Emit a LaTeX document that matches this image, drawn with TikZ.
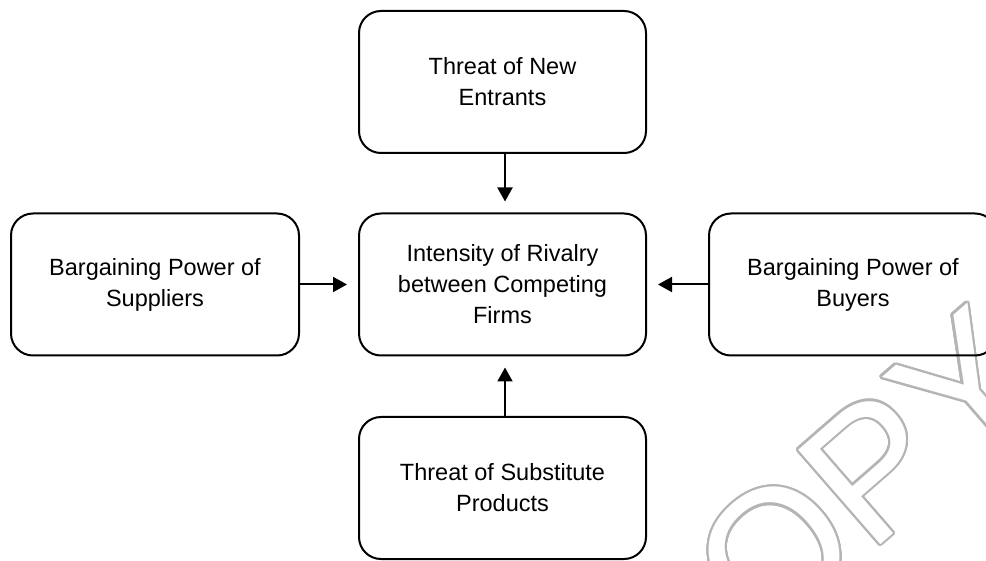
\documentclass[tikz,border=0pt]{standalone}
\usepackage{fontspec}
\setmainfont{Liberation Sans}
\usetikzlibrary{arrows.meta}
\definecolor{wmgray}{RGB}{180,180,180}
\begin{document}
\begin{tikzpicture}[x=1pt,y=-1pt,
  box/.style={draw, line width=2pt, rounded corners=22pt, minimum width=287pt, minimum height=142pt,
    align=center, inner sep=0pt, font=\fontsize{23.5}{31}\selectfont},
  arr/.style={line width=2pt, -{Triangle[length=14pt,width=15pt]}, shorten >=11pt},
  wm/.style={anchor=base, rotate=41, inner sep=0pt, font=\fontsize{182}{182}\selectfont}]
\useasboundingbox (0,0) rectangle (986,561);
\clip (0,0) rectangle (986,561);
\foreach \a in {0,15,...,345}
  \node[wm, text=wmgray] (wm\a) at ([shift={(\a:2.1pt)}]858,564) {COPY};
\node[wm, text=white] (wm) at (858,564) {COPY};
\node[box] (top) at (502.5,82) {Threat of New\\Entrants};
\node[box] (mid) at (502.5,284.5) {Intensity of Rivalry\\between Competing\\Firms};
\node[box, minimum width=288pt] (left) at (155,284.5) {Bargaining Power of\\Suppliers};
\node[box, minimum width=288pt] (right) at (853,284.5) {Bargaining Power of\\Buyers};
\node[box] (bot) at (502.5,488) {Threat of Substitute\\Products};
\draw[arr] ([xshift=2.5pt]top.south) -- ([xshift=2.5pt]mid.north);
\draw[arr] (left.east) -- (mid.west);
\draw[arr] (right.west) -- (mid.east);
\draw[arr] ([xshift=2.5pt]bot.north) -- ([xshift=2.5pt]mid.south);
\end{tikzpicture}
\end{document}
